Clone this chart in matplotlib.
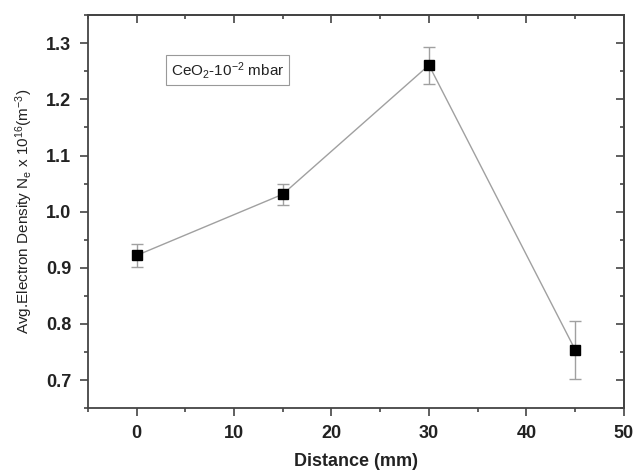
import matplotlib.pyplot as plt
from matplotlib.ticker import MultipleLocator

distance = [0, 15, 30, 45]
density = [0.922, 1.031, 1.261, 0.754]
err = [0.020, 0.019, 0.033, 0.052]

plt.rcParams['font.family'] = ['Liberation Sans', 'DejaVu Sans']
plt.rcParams['mathtext.default'] = 'regular'

fig = plt.figure(figsize=(6.36, 4.73), dpi=100)
ax = fig.add_axes([0.138, 0.137, 0.843, 0.831])

ax.plot(distance, density, color='#a0a0a0', linewidth=1.0, zorder=2)
ax.errorbar(distance, density, yerr=err, fmt='none', ecolor='#a0a0a0',
            elinewidth=1.0, capsize=4, capthick=1.0, zorder=2)
ax.plot(distance, density, 's', color='black', markersize=7, zorder=3)

ax.set_xlim(-5, 50)
ax.set_ylim(0.65, 1.35)
ax.xaxis.set_major_locator(MultipleLocator(10))
ax.xaxis.set_minor_locator(MultipleLocator(5))
ax.yaxis.set_major_locator(MultipleLocator(0.1))
ax.yaxis.set_minor_locator(MultipleLocator(0.05))
ax.yaxis.set_major_formatter(plt.FormatStrFormatter('%.1f'))

for s in ax.spines.values():
    s.set_color('#444444')
    s.set_linewidth(1.3)

ax.tick_params(which='both', direction='out', top=False, right=False,
               color='#444444', width=1.2)
ax.tick_params(which='major', length=6, labelsize=13, pad=6)
ax.tick_params(which='minor', length=3)
for lab in ax.get_xticklabels() + ax.get_yticklabels():
    lab.set_fontweight('bold')
    lab.set_color('#222222')

# inward ticks on top and right spines
ax2 = ax.secondary_xaxis('top')
ax2.xaxis.set_major_locator(MultipleLocator(10))
ax2.xaxis.set_minor_locator(MultipleLocator(5))
ax2.tick_params(which='both', direction='in', labeltop=False, color='#444444', width=1.2)
ax2.tick_params(which='major', length=6)
ax2.tick_params(which='minor', length=3)
ax3 = ax.secondary_yaxis('right')
ax3.yaxis.set_major_locator(MultipleLocator(0.1))
ax3.yaxis.set_minor_locator(MultipleLocator(0.05))
ax3.tick_params(which='both', direction='in', labelright=False, color='#444444', width=1.2)
ax3.tick_params(which='major', length=6)
ax3.tick_params(which='minor', length=3)
for a in (ax2, ax3):
    for s in a.spines.values():
        s.set_color('#444444')
        s.set_linewidth(1.3)

ax.set_xlabel('Distance (mm)', fontsize=13, fontweight='bold', color='#222222', labelpad=8)
ax.set_ylabel(r'Avg.Electron Density N$_e$ x 10$^{16}$(m$^{-3}$)', fontsize=11,
              color='#222222', labelpad=8)

ax.text(0.155, 0.86, r'CeO$_2$-10$^{-2}$ mbar', transform=ax.transAxes,
        fontsize=11, color='#222222', va='center', ha='left',
        bbox=dict(boxstyle='square,pad=0.3', facecolor='white', edgecolor='#999999', linewidth=0.8))

fig.savefig('out.png', dpi=100)
